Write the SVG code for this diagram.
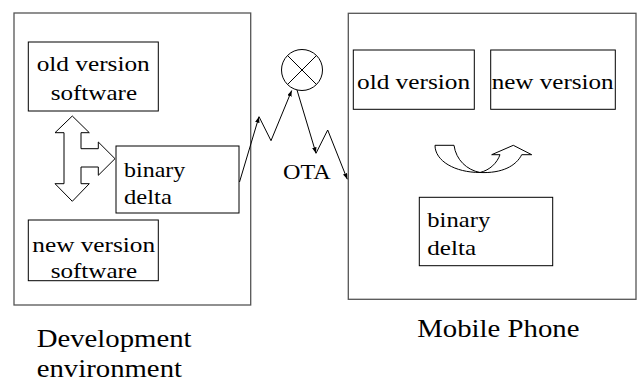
<svg xmlns="http://www.w3.org/2000/svg" width="638" height="385" viewBox="0 0 638 385">
<style>
.frame{fill:none;stroke:#555;stroke-width:1.3}
.box{fill:#fff;stroke:#000;stroke-width:1}
.shape{fill:#fff;stroke:#000;stroke-width:1;stroke-linejoin:miter}
.ln{fill:none;stroke:#000;stroke-width:1}
.t{font-family:"Liberation Serif","Times New Roman",serif;font-size:22px;fill:#000}
.tb{font-family:"Liberation Serif","Times New Roman",serif;font-size:25px;fill:#000}
</style>
<defs>
<marker id="ah" viewBox="0 0 8 6" refX="8" refY="3" markerWidth="6" markerHeight="4.5" markerUnits="userSpaceOnUse" orient="auto">
<path d="M0,0 L8,3 L0,6 Z" fill="#000"/>
</marker>
</defs>
<rect width="638" height="385" fill="#fff"/>

<g id="dev-env">
<rect class="frame" x="14" y="13" width="236.7" height="292"/>
<text class="tb" transform="translate(36.7,347.3) scale(1.15,1)">Development</text>
<text class="tb" transform="translate(36.7,376.7) scale(1.15,1)">environment</text>
</g>

<g id="old-sw">
<rect class="box" x="28.3" y="42" width="130" height="69"/>
<text class="t" transform="translate(36.7,71) scale(1.15,1)">old version</text>
<text class="t" transform="translate(50.7,100) scale(1.14,1)">software</text>
</g>

<g id="dev-delta">
<rect class="box" x="116" y="146" width="123" height="67"/>
<text class="t" transform="translate(124,176.7) scale(1.09,1)">binary</text>
<text class="t" transform="translate(124,204) scale(1.12,1)">delta</text>
</g>

<g id="new-sw">
<rect class="box" x="28.3" y="220" width="130" height="60.7"/>
<text class="t" transform="translate(32.3,251.5) scale(1.15,1)">new version</text>
<text class="t" transform="translate(50.7,277.7) scale(1.14,1)">software</text>
</g>

<g id="triple-arrow">
<path class="shape" d="M72.3,116 L89.3,132.7 L81,132.7 L81,148.7 L98.3,148.7 L98.3,142 L115,158.7 L98.3,175.3 L98.3,167 L81,167 L81,183.7 L89.3,183.7 L72.3,201.3 L55,183.7 L64,183.7 L64,132.7 L55,132.7 Z"/>
</g>

<g id="ota-node">
<circle class="box" cx="302" cy="70" r="20.5"/>
<path class="ln" d="M287.5,55.5 L316.5,84.5 M316.5,55.5 L287.5,84.5"/>
<text class="t" transform="translate(283,179) scale(1.1,1)">OTA</text>
</g>

<g id="phone">
<rect class="frame" x="348.3" y="13.3" width="287.7" height="286"/>
<text class="tb" transform="translate(417.3,336.7) scale(1.15,1)">Mobile Phone</text>
</g>

<g id="phone-old">
<rect class="box" x="353.3" y="50" width="121" height="59.3"/>
<text class="t" transform="translate(357,88.5) scale(1.15,1)">old version</text>
</g>

<g id="phone-new">
<rect class="box" x="490.7" y="50" width="124.6" height="59.3"/>
<text class="t" transform="translate(491.7,88.5) scale(1.14,1)">new version</text>
</g>

<g id="phone-delta">
<rect class="box" x="419.3" y="197.3" width="133.4" height="68.4"/>
<text class="t" transform="translate(427.3,226.7) scale(1.12,1)">binary</text>
<text class="t" transform="translate(427.3,255.3) scale(1.14,1)">delta</text>
</g>

<g id="curved-arrow">
<path class="ln" d="M435,145.3 L454,145.3"/>
<path class="ln" d="M435,145.3 C435,161 455,172.5 480,172.5"/>
<path class="ln" d="M454,145.3 C456,160 467,170 480,172.5"/>
<path class="ln" d="M480,172.5 C490,170 497,163 500,154.7"/>
<path class="ln" d="M480,172.5 C502,173.5 516,166 521.7,154.7"/>
<path class="ln" d="M500,154.7 L491.7,154.7 L513.3,145.3 L531.7,154.7 L521.7,154.7"/>
</g>

<g id="connectors">
<path class="ln" d="M239.5,182 L259,116.7" marker-end="url(#ah)"/>
<path class="ln" d="M259,116.7 L271,140.7 L291.7,90.5" marker-end="url(#ah)"/>
<path class="ln" d="M297,90 L316,153.3" marker-end="url(#ah)"/>
<path class="ln" d="M316,153.3 L327.7,130 L347.3,179.3" marker-end="url(#ah)"/>
</g>
</svg>
